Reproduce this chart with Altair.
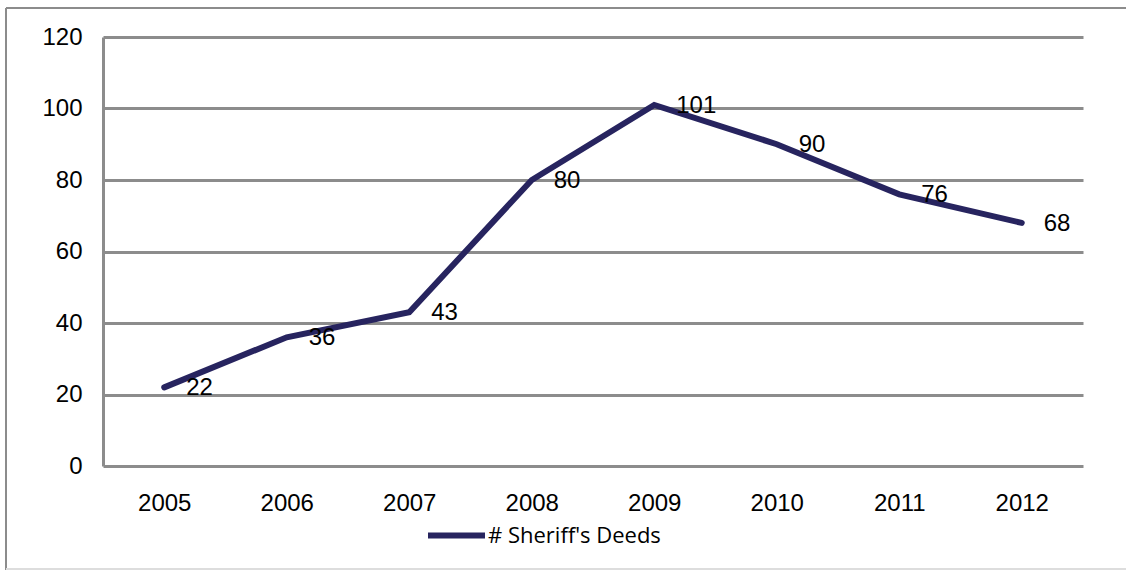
import altair as alt
import pandas as pd

# Annual counts of sheriff's deeds
years = ["2005", "2006", "2007", "2008", "2009", "2010", "2011", "2012"]
deeds = [22, 36, 43, 80, 101, 90, 76, 68]
series_name = "# Sheriff's Deeds"

df = pd.DataFrame({"year": years, "deeds": deeds, "series": [series_name] * len(years)})

NAVY = "#27245f"
GRID = "#8c8c8c"
NUM_FONT = "Liberation Sans"
NUM_SIZE = 24

W, H = 980, 429

x_enc = alt.X(
    "year:N",
    sort=years,
    scale=alt.Scale(paddingInner=0, paddingOuter=0.5),
    axis=alt.Axis(
        title=None, domain=False, ticks=False, grid=False, labelAngle=0,
        labelFont=NUM_FONT, labelFontSize=NUM_SIZE, labelColor="#000000",
        labelPadding=37, labelBaseline="middle",
    ),
)
y_enc = alt.Y(
    "deeds:Q",
    scale=alt.Scale(domain=[0, 120], nice=False),
    axis=alt.Axis(
        title=None, values=[0, 20, 40, 60, 80, 100, 120], ticks=False,
        domain=True, domainColor=GRID, domainWidth=3,
        grid=True, gridColor=GRID, gridWidth=3,
        labelFont=NUM_FONT, labelFontSize=NUM_SIZE, labelColor="#000000",
        labelPadding=21,
    ),
)

line = alt.Chart(df).mark_line(strokeWidth=6, strokeCap="round", strokeJoin="miter").encode(
    x=x_enc,
    y=y_enc,
    color=alt.Color(
        "series:N",
        scale=alt.Scale(domain=[series_name], range=[NAVY]),
        legend=alt.Legend(
            title=None, orient="none", legendX=322, legendY=467,
            symbolType="stroke", symbolSize=3249, symbolStrokeWidth=6,
            labelFont="Open Sans", labelFontSize=22, labelColor="#000000",
            labelOffset=0, labelLimit=0, padding=0,
        ),
    ),
)

labels = alt.Chart(df).mark_text(
    align="left", baseline="middle", dx=22, dy=1,
    font=NUM_FONT, fontSize=NUM_SIZE, color="#000000",
).encode(x=alt.X("year:N", sort=years), y="deeds:Q", text="deeds:Q")

# Outer frame around the whole figure
frame_top = alt.Chart().mark_rule(color=GRID, strokeWidth=2).encode(
    x=alt.value(-97), x2=alt.value(1040), y=alt.value(-29)
)
frame_left = alt.Chart().mark_rule(color=GRID, strokeWidth=2).encode(
    x=alt.value(-97), y=alt.value(-29), y2=alt.value(533)
)
frame_bottom = alt.Chart().mark_rule(color="#dddddd", strokeWidth=2).encode(
    x=alt.value(-97), x2=alt.value(1040), y=alt.value(532)
)

chart = alt.layer(frame_top, frame_left, frame_bottom, line, labels).properties(
    width=W, height=H,
    autosize=alt.AutoSizeParams(type="none"),
    padding={"left": 103, "top": 37, "right": 43, "bottom": 104},
    background="#ffffff",
).configure_view(stroke=None)

chart.save("out.html", embed_options={"renderer": "svg", "actions": False})
